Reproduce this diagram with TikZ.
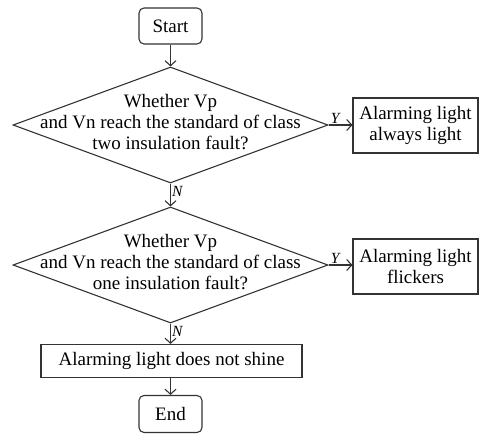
\documentclass[tikz,border=0pt]{standalone}
\usepackage{fontspec}
\setmainfont{Liberation Serif}
\usetikzlibrary{shapes.geometric,arrows.meta}
\begin{document}
\begin{tikzpicture}[x=1pt,y=-1pt,
  line/.style={draw=black!80, line width=1.1pt},
  txt/.style={align=center, font=\fontsize{19}{21}\selectfont, inner sep=0pt},
  term/.style={txt, line, rounded corners=5pt, minimum width=63pt, minimum height=36pt},
  dec/.style={line, diamond, minimum width=315pt, minimum height=116pt, inner sep=0pt},
  proc/.style={txt, line, rectangle},
  arr/.style={line, -{Straight Barb[length=5pt,width=11pt]}},
  lab/.style={font=\fontsize{15.5}{15.5}\selectfont\itshape, inner sep=1pt}]
\useasboundingbox (0,0) rectangle (479,434);

\node[term] (start) at (170.5,26) {Start};
\node[dec] (d1) at (170.5,125) {};
\node[txt] (t1) at (170.5,122) {Whether Vp\\and Vn reach the standard of class\\two insulation fault?};
\node[proc, minimum width=125pt, minimum height=55pt] (b1) at (415.5,125.5) {Alarming light\\always light};
\node[dec] (d2) at (170.5,265) {};
\node[txt] (t2) at (170.5,262) {Whether Vp\\and Vn reach the standard of class\\one insulation fault?};
\node[proc, minimum width=125pt, minimum height=55pt] (b2) at (415.5,266.5) {Alarming light\\flickers};
\node[proc, minimum width=261pt, minimum height=33pt] (b3) at (171.5,361) {Alarming light does not shine};
\node[term, minimum height=37pt] (end) at (170.5,414) {End};

\draw[arr] (start.south) -- (d1.north);
\draw[arr] (d1.east) -- node[lab, above, pos=0.28] {Y} (d1.east -| b1.west);
\draw[arr] (d1.south) -- node[lab, right, pos=0.35] {N} (d2.north);
\draw[arr] (d2.east) -- node[lab, above, pos=0.28] {Y} (d2.east -| b2.west);
\draw[arr] (d2.south) -- node[lab, right, pos=0.4] {N} (d2.south |- b3.north);
\draw[arr] (b3.south -| end.north) -- (end.north);
\end{tikzpicture}
\end{document}
